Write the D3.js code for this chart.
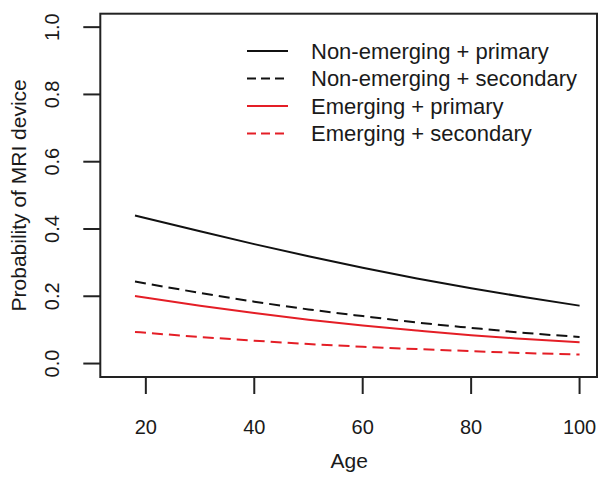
<!DOCTYPE html>
<html><head><meta charset="utf-8">
<script src="https://cdn.jsdelivr.net/npm/d3@7"></script>
<style>body{margin:0;background:#fff}svg{display:block}text{font-family:"Liberation Sans",Arial,sans-serif;fill:#1a1a1a}</style>
</head><body><svg id="c" width="599" height="477"></svg>
<script>
const ages = [18, 30, 40, 50, 60, 70, 80, 90, 100];
const nonEmergingPrimary   = [0.440, 0.393, 0.355, 0.319, 0.285, 0.253, 0.224, 0.197, 0.172];
const nonEmergingSecondary = [0.244, 0.210, 0.184, 0.161, 0.141, 0.122, 0.106, 0.091, 0.079];
const emergingPrimary      = [0.201, 0.172, 0.150, 0.130, 0.113, 0.098, 0.084, 0.073, 0.063];
const emergingSecondary    = [0.094, 0.079, 0.068, 0.058, 0.050, 0.043, 0.037, 0.031, 0.027];
const seriesNames = ["Non-emerging + primary", "Non-emerging + secondary", "Emerging + primary", "Emerging + secondary"];
const xTicks = [20, 40, 60, 80, 100];
const yTicks = [0.0, 0.2, 0.4, 0.6, 0.8, 1.0];

const svg = d3.select("#c");
const L = 100.3, R = 598, T = 13.7, B = 377;
const x = d3.scaleLinear().domain([15 - 3.4, 100 + 3.4]).range([L, R]);
const y = d3.scaleLinear().domain([-0.04, 1.04]).range([B, T]);

const red = "#e41e26", black = "#111";
const styles = [
  {color: black, dash: null},
  {color: black, dash: "11,6"},
  {color: red, dash: null},
  {color: red, dash: "11,6"}
];
const data = [nonEmergingPrimary, nonEmergingSecondary, emergingPrimary, emergingSecondary];

const line = d3.line().x((d, i) => x(ages[i])).y(d => y(d)).curve(d3.curveMonotoneX);
data.forEach((s, k) => {
  svg.append("path").attr("d", line(s)).attr("fill", "none")
    .attr("stroke", styles[k].color).attr("stroke-width", 2)
    .attr("stroke-dasharray", styles[k].dash);
});

// box
svg.append("rect").attr("x", L).attr("y", T).attr("width", R - L - 1).attr("height", B - T)
  .attr("fill", "none").attr("stroke", "#222").attr("stroke-width", 2);

// x axis
const xa = svg.append("g");
xTicks.forEach(t => {
  xa.append("line").attr("x1", x(t)).attr("x2", x(t)).attr("y1", B).attr("y2", B + 17).attr("stroke", "#222").attr("stroke-width", 2);
  xa.append("text").attr("x", x(t)).attr("y", 434).attr("text-anchor", "middle").attr("font-size", 20).text(t);
});
svg.append("text").attr("x", (L + R) / 2).attr("y", 468).attr("text-anchor", "middle").attr("font-size", 21).text("Age");

// y axis
const ya = svg.append("g");
yTicks.forEach(t => {
  ya.append("line").attr("x1", L - 17).attr("x2", L).attr("y1", y(t)).attr("y2", y(t)).attr("stroke", "#222").attr("stroke-width", 2);
  ya.append("text").attr("transform", `translate(59,${y(t)}) rotate(-90)`).attr("text-anchor", "middle").attr("font-size", 20).text(t.toFixed(1));
});
svg.append("text").attr("transform", `translate(26,${(T + B) / 2}) rotate(-90)`).attr("text-anchor", "middle").attr("font-size", 21).text("Probability of MRI device");

// legend
const lg = svg.append("g");
seriesNames.forEach((n, k) => {
  const yy = 51 + k * 27.5;
  lg.append("line").attr("x1", 247).attr("x2", 288).attr("y1", yy).attr("y2", yy)
    .attr("stroke", styles[k].color).attr("stroke-width", 2).attr("stroke-dasharray", styles[k].dash ? "9,5" : null);
  lg.append("text").attr("x", 311).attr("y", yy + 7.5).attr("font-size", 22).text(n);
});
</script></body></html>
